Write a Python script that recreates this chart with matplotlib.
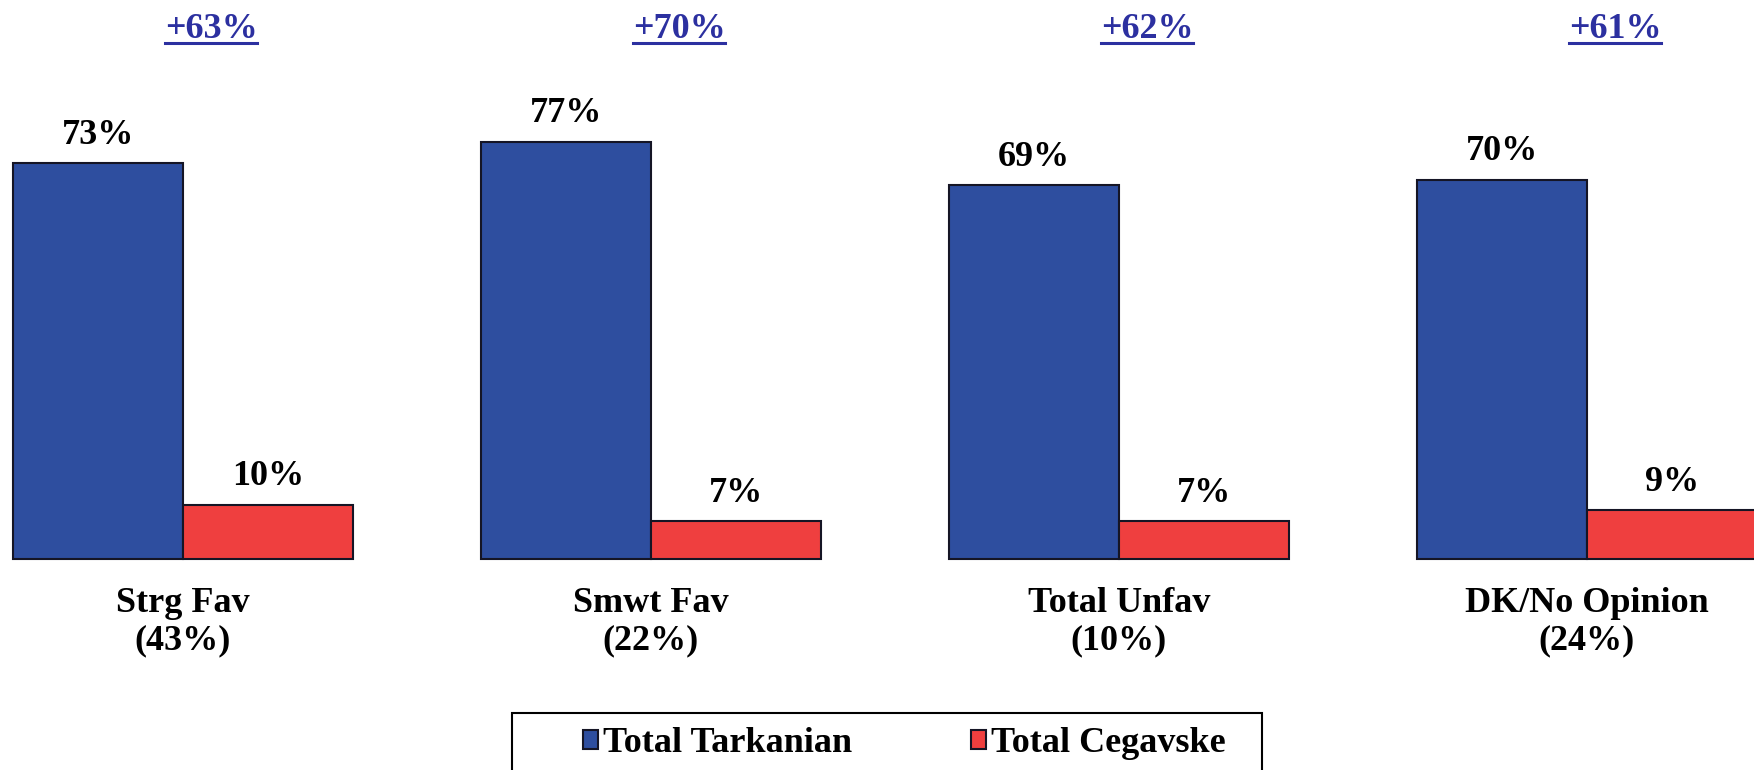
import matplotlib
matplotlib.use("Agg")
import matplotlib.pyplot as plt
from matplotlib.lines import Line2D
from matplotlib.patches import Rectangle

# chart values
categories = ["Strg Fav\n(43%)", "Smwt Fav\n(22%)", "Total Unfav\n(10%)", "DK/No Opinion\n(24%)"]
tarkanian = [73, 77, 69, 70]
cegavske = [10, 7, 7, 9]
gains = ["+63%", "+70%", "+62%", "+61%"]
series_names = ["Total Tarkanian", "Total Cegavske"]

plt.rcParams["font.family"] = ["Liberation Serif", "DejaVu Serif"]
plt.rcParams["font.weight"] = "bold"

blue = "#2e4e9f"
red = "#ef3f3f"
edge = "#151525"
gain_color = "#2c30a0"

fig = plt.figure(figsize=(17.54, 7.7), dpi=100)
ax = fig.add_axes([0, 0, 1, 1])

x = list(range(len(categories)))
w = 0.363
b1 = ax.bar([i - w / 2 for i in x], tarkanian, w, color=blue, edgecolor=edge,
            linewidth=1.5, label=series_names[0])
b2 = ax.bar([i + w / 2 for i in x], cegavske, w, color=red, edgecolor=edge,
            linewidth=1.5, label=series_names[1])

ax.set_xlim(-0.391, 3.357)
ax.set_ylim(-38.93, 103.14)
ax.axis("off")

# value labels above bars
for bars, vals in [(b1, tarkanian), (b2, cegavske)]:
    for r, v in zip(bars, vals):
        ax.annotate(f"{v}%", (r.get_x() + r.get_width() / 2, v), xytext=(0, 14),
                    textcoords="offset points", ha="center", va="baseline", fontsize=26)

# category labels under each pair
for i, cat in zip(x, categories):
    ax.annotate(cat, (i, 0), xytext=(0, -20), textcoords="offset points",
                ha="center", va="top", fontsize=26, linespacing=1.2)

# gap labels at top (underlined)
gain_texts = []
for i, g in zip(x, gains):
    t = ax.text(i + 0.06, 1 - 38 / 770, g, transform=ax.get_xaxis_transform(),
                ha="center", va="baseline", fontsize=26, color=gain_color)
    gain_texts.append(t)

# legend box (runs off the bottom edge like the original)
fig.add_artist(Rectangle((512 / 1754, -0.05), 750 / 1754, 0.05 + 57 / 770,
                         transform=fig.transFigure, facecolor="none",
                         edgecolor="black", linewidth=1.5, clip_on=False))
leg = fig.legend(handles=[b1, b2], loc="center", bbox_to_anchor=(0.5157, 26 / 770),
                 ncol=2, frameon=False, fontsize=26,
                 handlelength=0.4, handleheight=0.4, handletextpad=0.15,
                 columnspacing=3.3, borderpad=0, borderaxespad=0)

fig.canvas.draw()
r = fig.canvas.get_renderer()
for t in gain_texts:
    bb = t.get_window_extent(r)
    uy = 1 - 43 / 770
    fig.add_artist(Line2D([bb.x0 / 1754, bb.x1 / 1754], [uy, uy], color=gain_color,
                          linewidth=2.2, transform=fig.transFigure))

fig.savefig("out.png", dpi=100)
